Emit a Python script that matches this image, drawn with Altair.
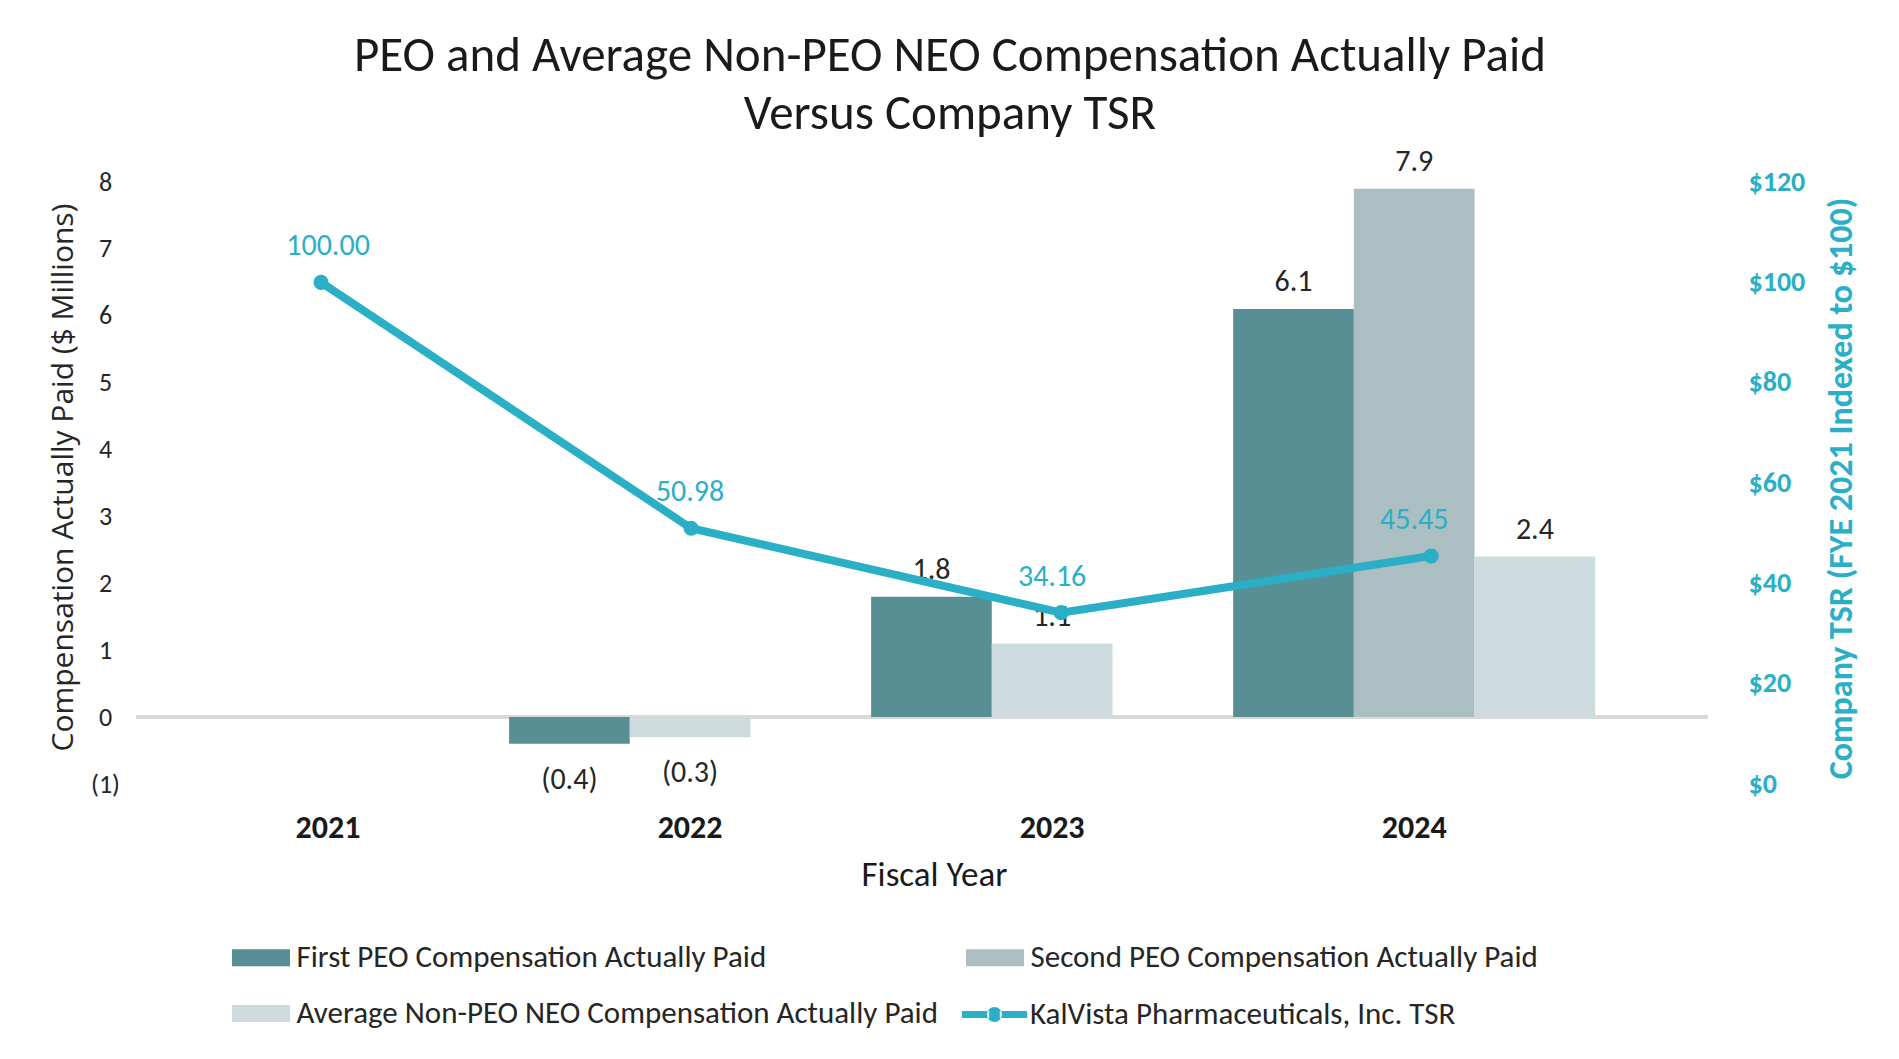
import altair as alt
import pandas as pd

# ---------------- data ----------------
years = ["2021", "2022", "2023", "2024"]
first_peo = [None, -0.4, 1.8, 6.1]
second_peo = [None, None, None, 7.9]
avg_neo = [None, -0.3, 1.1, 2.4]
tsr = [100.00, 50.98, 34.16, 45.45]

series_names = [
    "First PEO Compensation Actually Paid",
    "Second PEO Compensation Actually Paid",
    "Average Non-PEO NEO Compensation Actually Paid",
]
series_colors = ["#578F95", "#ABBEC2", "#CDDADE"]
tsr_name = "KalVista Pharmaceuticals, Inc. TSR"
tsr_color = "#2AAFC6"

left_ticks = [-1, 0, 1, 2, 3, 4, 5, 6, 7, 8]
right_ticks = [0, 20, 40, 60, 80, 100, 120]

rows = []
for i, yr in enumerate(years):
    slot = 0
    for name, vals in zip(series_names, [first_peo, second_peo, avg_neo]):
        v = vals[i]
        if v is None:
            continue
        rows.append({"Year": yr, "Series": name, "Value": v, "Slot": slot})
        slot += 1
bars_df = pd.DataFrame(rows)
tsr_df = pd.DataFrame({"Year": years, "TSR": tsr, "Name": tsr_name})

# ---------------- styling ----------------
FONT = "Carlito, Lato"
TXT = "#262626"
W, H = 1572, 602

x_main_scale = alt.Scale(type="band", domain=years, paddingInner=0, paddingOuter=0.171, align=0.089)
x_line_scale = alt.Scale(type="band", domain=years, paddingInner=0, paddingOuter=0.124, align=0)
y_comp_scale = alt.Scale(domain=[-1, 8], nice=False, zero=False)
y_tsr_scale = alt.Scale(domain=[0, 120], nice=False, zero=False)
xoff = alt.XOffset("Slot:O", scale=alt.Scale(domain=[0, 1, 2], paddingInner=0, paddingOuter=0))

bar_symbol = "M-1.094,-0.32H1.094V0.32H-1.094Z"
line_symbol = ("M-1.23,-0.13H-0.2V0.13H-1.23Z M0.2,-0.13H1.23V0.13H0.2Z "
               "M-0.28,0A0.28,0.28 0 1,0 0.28,0A0.28,0.28 0 1,0 -0.28,0Z")

x_axis = alt.Axis(
    title="Fiscal Year", labelFont=FONT, labelFontSize=32, labelFontWeight="bold",
    labelColor="#1a1a1a", labelPadding=28, labelAngle=0, ticks=False, tickSize=0,
    domain=False, grid=False, titleFont=FONT, titleFontSize=35, titleFontWeight="normal",
    titleColor="#1a1a1a", titleX=798, titleY=90, titleBaseline="middle", titleAnchor="start",
    titleAlign="center",
)
x_main = alt.X("Year:N", sort=years, scale=x_main_scale, axis=x_axis)
x_main_noaxis = alt.X("Year:N", sort=years, scale=x_main_scale, axis=None)

y_left_axis = alt.Axis(
    title="Compensation Actually Paid ($ Millions)", values=left_ticks,
    labelExpr="datum.value < 0 ? '(' + format(abs(datum.value), 'd') + ')' : format(datum.value, 'd')",
    labelFont=FONT, labelFontSize=26, labelColor=TXT, labelAlign="center",
    labelPadding=31, ticks=False, tickSize=0, domain=False, grid=False,
    titleFont="Open Sans", titleFontSize=30, titleFontWeight="normal", titleColor=TXT,
    titleAngle=270, titleX=-73, titleY=H / 2 - 6, titleBaseline="middle", titleAlign="center",
)

rule = alt.Chart(bars_df).mark_rule(color="#D9D9D9", strokeWidth=4).encode(
    y=alt.datum(0, scale=y_comp_scale)
)

bars = alt.Chart(bars_df).mark_bar().encode(
    x=x_main,
    xOffset=xoff,
    y=alt.Y("Value:Q", scale=y_comp_scale, axis=y_left_axis),
    color=alt.Color(
        "Series:N",
        scale=alt.Scale(domain=series_names, range=series_colors),
        legend=alt.Legend(
            title=None, orient="none", legendX=98.5, legendY=749, columns=2,
            direction="horizontal", columnPadding=27, rowPadding=14, padding=0,
            symbolType=bar_symbol, symbolSize=2809, symbolStrokeWidth=0, symbolOpacity=1,
            labelOffset=9, labelFont=FONT, labelFontSize=31, labelColor=TXT, labelLimit=1000,
        ),
    ),
)

lab_base = alt.Chart(bars_df).transform_calculate(
    label="datum.Value < 0 ? '(' + format(abs(datum.Value), '.1f') + ')' : format(datum.Value, '.1f')"
)
lab_pos = lab_base.transform_filter("datum.Value >= 0").mark_text(
    font=FONT, fontSize=30, color=TXT, baseline="middle", dy=-27
).encode(x=x_main, xOffset=xoff, y=alt.Y("Value:Q", scale=y_comp_scale), text="label:N")
lab_neg = lab_base.transform_filter("datum.Value < 0").mark_text(
    font=FONT, fontSize=30, color=TXT, baseline="middle", dy=36
).encode(x=x_main, xOffset=xoff, y=alt.Y("Value:Q", scale=y_comp_scale), text="label:N")

group_a = alt.layer(rule, bars, lab_pos, lab_neg)

y_right_axis = alt.Axis(
    orient="right", title="Company TSR (FYE 2021 Indexed to $100)", values=right_ticks,
    labelExpr="'$' + datum.value", labelFont=FONT, labelFontSize=28,
    labelFontWeight="bold", labelColor=tsr_color, labelPadding=40, ticks=False,
    tickSize=0, domain=False, grid=False, titleFont=FONT, titleFontSize=34,
    titleFontWeight="bold", titleColor=tsr_color, titleAngle=270, titleX=133,
    titleY=306, titleBaseline="middle", titleAlign="center",
)

tsr_color_enc = alt.Color(
    "Name:N",
    scale=alt.Scale(domain=[tsr_name], range=[tsr_color]),
    legend=alt.Legend(
        title=None, orient="none", legendX=832, legendY=806, padding=0,
        symbolType=line_symbol, symbolSize=2809, symbolStrokeWidth=0,
        symbolFillColor=tsr_color, symbolOpacity=1, labelOffset=9,
        labelFont=FONT, labelFontSize=31, labelColor=TXT, labelLimit=1000,
    ),
)
x_line = alt.X("Year:N", sort=years, scale=x_line_scale, axis=None)

line = alt.Chart(tsr_df).mark_line(strokeWidth=8).encode(
    x=x_line, y=alt.Y("TSR:Q", scale=y_tsr_scale, axis=y_right_axis), color=tsr_color_enc
)
pts = alt.Chart(tsr_df).mark_point(filled=True, size=230, opacity=1).encode(
    x=x_line, y=alt.Y("TSR:Q", scale=y_tsr_scale), color=tsr_color_enc
)
group_b = alt.layer(line, pts)

tsr_labels = alt.Chart(tsr_df).mark_text(
    font=FONT, fontSize=30, color=tsr_color, baseline="middle", dy=-36
).encode(
    x=x_main_noaxis,
    y=alt.Y("TSR:Q", scale=y_tsr_scale, axis=None),
    text=alt.Text("TSR:Q", format=".2f"),
)

chart = alt.layer(group_a, group_b, tsr_labels).resolve_scale(
    x="independent", y="independent", color="independent"
).properties(
    width=W, height=H,
    background="white",
    autosize=alt.AutoSizeParams(type="none"),
    padding={"left": 128, "top": 174, "right": 183, "bottom": 267},
    title=alt.TitleParams(
        text=["PEO and Average Non-PEO NEO Compensation Actually Paid", "Versus Company TSR"],
        font=FONT, fontSize=49, fontWeight="normal", color="#1a1a1a", anchor="middle",
        dx=28, offset=8, lineHeight=58,
    ),
).configure_view(stroke=None)

chart.save("out.html", embed_options={"renderer": "svg", "actions": False})
